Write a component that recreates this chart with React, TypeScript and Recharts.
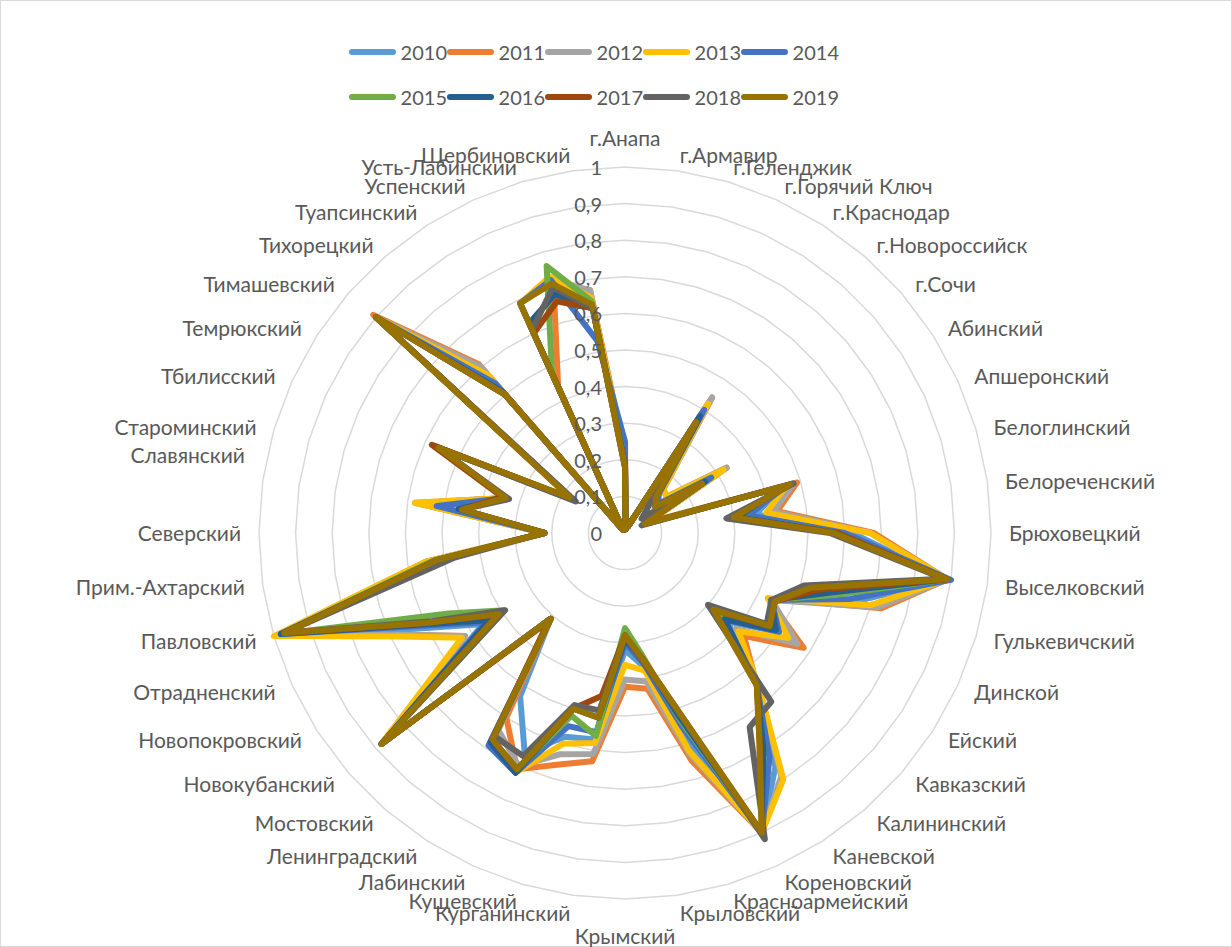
import React from 'react';
import { PolarAngleAxis, PolarGrid, PolarRadiusAxis, Radar, RadarChart } from 'recharts';

const districts = [
  'г.Анапа', 'г.Армавир', 'г.Геленджик', 'г.Горячий Ключ', 'г.Краснодар', 'г.Новороссийск', 'г.Сочи',
  'Абинский', 'Апшеронский', 'Белоглинский', 'Белореченский', 'Брюховецкий', 'Выселковский',
  'Гулькевичский', 'Динской', 'Ейский', 'Кавказский', 'Калининский', 'Каневской', 'Кореновский',
  'Красноармейский', 'Крыловский', 'Крымский', 'Курганинский', 'Кущевский', 'Лабинский',
  'Ленинградский', 'Мостовский', 'Новокубанский', 'Новопокровский', 'Отрадненский', 'Павловский',
  'Прим.-Ахтарский', 'Северский ', 'Славянский', 'Староминский', 'Тбилисский', 'Темрюкский',
  'Тимашевский', 'Тихорецкий', 'Туапсинский', 'Успенский', 'Усть-Лабинский', 'Щербиновский',
];

// one array per year, in the order of districts
const y2010 = [0.19, 0.01, 0.02, 0.02, 0.41, 0.14, 0.12, 0.30, 0.06, 0.45, 0.36, 0.62, 0.89, 0.66, 0.44, 0.50, 0.37, 0.56, 0.76, 0.90, 0.58, 0.37, 0.32, 0.57, 0.58, 0.66, 0.53, 0.31, 0.88, 0.46, 0.63, 0.98, 0.53, 0.22, 0.53, 0.34, 0.56, 0.17, 0.90, 0.54, 0.01, 0.69, 0.72, 0.63];
const y2011 = [0.22, 0.01, 0.02, 0.02, 0.44, 0.16, 0.15, 0.33, 0.07, 0.49, 0.42, 0.68, 0.89, 0.73, 0.43, 0.58, 0.43, 0.55, 0.69, 0.90, 0.65, 0.43, 0.42, 0.63, 0.66, 0.71, 0.60, 0.31, 0.88, 0.52, 0.67, 0.99, 0.55, 0.22, 0.57, 0.34, 0.56, 0.17, 0.91, 0.61, 0.01, 0.44, 0.69, 0.67];
const y2012 = [0.20, 0.01, 0.02, 0.02, 0.44, 0.16, 0.15, 0.33, 0.07, 0.48, 0.41, 0.67, 0.89, 0.72, 0.44, 0.56, 0.40, 0.56, 0.79, 0.90, 0.63, 0.41, 0.40, 0.61, 0.63, 0.70, 0.64, 0.31, 0.88, 0.52, 0.67, 0.99, 0.54, 0.22, 0.58, 0.34, 0.56, 0.17, 0.90, 0.60, 0.01, 0.69, 0.72, 0.67];
const y2013 = [0.21, 0.01, 0.02, 0.02, 0.42, 0.16, 0.15, 0.32, 0.07, 0.46, 0.39, 0.67, 0.89, 0.70, 0.43, 0.53, 0.41, 0.56, 0.80, 0.90, 0.62, 0.38, 0.36, 0.58, 0.60, 0.72, 0.68, 0.31, 0.88, 0.53, 0.68, 1.00, 0.55, 0.22, 0.58, 0.34, 0.56, 0.17, 0.90, 0.57, 0.01, 0.69, 0.73, 0.65];
const y2014 = [0.25, 0.01, 0.02, 0.02, 0.40, 0.14, 0.12, 0.28, 0.06, 0.46, 0.34, 0.60, 0.90, 0.64, 0.44, 0.50, 0.36, 0.55, 0.73, 0.90, 0.55, 0.36, 0.30, 0.55, 0.55, 0.72, 0.69, 0.31, 0.88, 0.45, 0.61, 0.98, 0.52, 0.22, 0.52, 0.34, 0.56, 0.17, 0.90, 0.54, 0.01, 0.69, 0.72, 0.53];
const y2015 = [0.19, 0.01, 0.02, 0.02, 0.37, 0.13, 0.11, 0.26, 0.06, 0.46, 0.31, 0.58, 0.89, 0.60, 0.44, 0.48, 0.33, 0.55, 0.70, 0.90, 0.53, 0.34, 0.26, 0.56, 0.52, 0.71, 0.67, 0.31, 0.88, 0.39, 0.53, 0.98, 0.53, 0.22, 0.46, 0.34, 0.56, 0.17, 0.90, 0.50, 0.01, 0.48, 0.76, 0.64];
const y2016 = [0.19, 0.01, 0.02, 0.02, 0.38, 0.13, 0.11, 0.26, 0.06, 0.46, 0.31, 0.58, 0.89, 0.58, 0.44, 0.49, 0.36, 0.55, 0.70, 0.90, 0.52, 0.35, 0.29, 0.51, 0.50, 0.72, 0.68, 0.31, 0.88, 0.44, 0.60, 0.98, 0.52, 0.22, 0.46, 0.34, 0.57, 0.17, 0.90, 0.51, 0.01, 0.63, 0.68, 0.62];
const y2017 = [0.18, 0.01, 0.02, 0.02, 0.36, 0.13, 0.11, 0.25, 0.06, 0.47, 0.30, 0.58, 0.89, 0.55, 0.45, 0.47, 0.32, 0.55, 0.68, 0.90, 0.50, 0.35, 0.28, 0.45, 0.50, 0.71, 0.67, 0.32, 0.88, 0.41, 0.59, 0.97, 0.52, 0.22, 0.45, 0.35, 0.58, 0.17, 0.90, 0.50, 0.01, 0.60, 0.66, 0.62];
const y2018 = [0.18, 0.01, 0.02, 0.02, 0.36, 0.10, 0.06, 0.25, 0.05, 0.48, 0.28, 0.56, 0.88, 0.51, 0.44, 0.46, 0.30, 0.61, 0.63, 0.92, 0.50, 0.36, 0.28, 0.49, 0.49, 0.67, 0.66, 0.31, 0.88, 0.39, 0.58, 0.97, 0.47, 0.22, 0.45, 0.33, 0.56, 0.16, 0.90, 0.50, 0.01, 0.61, 0.70, 0.62];
const y2019 = [0.18, 0.01, 0.02, 0.02, 0.36, 0.13, 0.11, 0.25, 0.06, 0.47, 0.30, 0.57, 0.89, 0.53, 0.45, 0.47, 0.32, 0.55, 0.68, 0.90, 0.50, 0.35, 0.28, 0.51, 0.50, 0.71, 0.67, 0.31, 0.88, 0.41, 0.59, 0.97, 0.52, 0.22, 0.45, 0.34, 0.56, 0.18, 0.90, 0.50, 0.01, 0.69, 0.71, 0.63];

const years = ['2010', '2011', '2012', '2013', '2014', '2015', '2016', '2017', '2018', '2019'];
const seriesValues = [y2010, y2011, y2012, y2013, y2014, y2015, y2016, y2017, y2018, y2019];
const colors = ['#5B9BD5', '#ED7D31', '#A5A5A5', '#FFC000', '#4472C4', '#70AD47', '#255E91', '#9E480E', '#636363', '#997300'];
const radiusTicks = [0, 0.1, 0.2, 0.3, 0.4, 0.5, 0.6, 0.7, 0.8, 0.9, 1];

const data = districts.map((name, i) => {
  const row: Record<string, string | number> = { name };
  years.forEach((y, k) => {
    row['y' + y] = seriesValues[k][i];
  });
  return row;
});

const CX = 625;
const CY = 533;
const R = 366;
const FONT = 'Lato, "Noto Sans", sans-serif';
const TEXT = '#595959';

function AngleTick(props: any) {
  const { payload, index } = props;
  const deg = payload && typeof payload.coordinate === 'number' ? payload.coordinate : 90 - (index * 360) / districts.length;
  const a = (deg * Math.PI) / 180;
  const sx = Math.cos(a);
  const up = Math.sin(a);
  const rr = R + 18;
  const x = CX + rr * sx;
  const y = CY - rr * up;
  let anchor = sx > 0 ? 'start' : 'end';
  let dy = up > 0 ? 2 : -1;
  if (Math.abs(sx) < 0.02) {
    anchor = 'middle';
    dy = up > 0 ? -12 : 18;
  }
  // Excel nudged this one label upward
  if (payload.value === 'Славянский') dy -= 26;
  return (
    <text x={x} y={y + dy} textAnchor={anchor} dominantBaseline="central" fill={TEXT} fontSize={21} fontFamily={FONT}>
      {payload.value}
    </text>
  );
}

function RadiusTick(props: any) {
  const { y, payload } = props;
  const label = String(Number(Number(payload.value).toFixed(1))).replace('.', ',');
  return (
    <text x={CX - 23} y={y} textAnchor="end" dominantBaseline="central" fill={TEXT} fontSize={20} fontFamily={FONT}>
      {label}
    </text>
  );
}

function LegendBlock() {
  const rows = [years.slice(0, 5), years.slice(5)];
  return (
    <div style={{ position: 'absolute', left: 348, top: 28, fontFamily: FONT, color: TEXT, fontSize: 20 }}>
      {rows.map((row, r) => (
        <div key={r} style={{ display: 'flex', height: 45, alignItems: 'center' }}>
          {row.map((y) => {
            const k = years.indexOf(y);
            return (
              <div key={y} style={{ display: 'flex', alignItems: 'center', width: 98 }}>
                <span style={{ display: 'inline-block', width: 47, height: 6, borderRadius: 3, background: colors[k], marginRight: 5 }} />
                <span>{y}</span>
              </div>
            );
          })}
        </div>
      ))}
    </div>
  );
}

export default function App() {
  return (
    <div style={{ position: 'relative', width: 1232, height: 947, background: '#fff', boxSizing: 'border-box', border: '1px solid #d9d9d9' }}>
      <style>{'body{margin:0}'}</style>
      <div style={{ position: 'absolute', left: -1, top: -1 }}>
        <RadarChart width={1232} height={947} data={data} cx={CX} cy={CY} outerRadius={R} startAngle={90} endAngle={-270} margin={{ top: 0, right: 0, bottom: 0, left: 0 }}>
          <PolarGrid radialLines={false} stroke="#d9d9d9" strokeWidth={1.5} />
          <PolarAngleAxis dataKey="name" tick={<AngleTick />} tickLine={false} axisLine={false} />
          <PolarRadiusAxis angle={90} domain={[0, 1]} ticks={radiusTicks} tickCount={11} axisLine={false} tickLine={false} tick={<RadiusTick />} />
          {years.map((y, k) => (
            <Radar
              key={y}
              name={y}
              dataKey={'y' + y}
              stroke={colors[k]}
              strokeWidth={6}
              strokeLinejoin="round"
              fill="none"
              fillOpacity={0}
              dot={false}
              isAnimationActive={false}
            />
          ))}
        </RadarChart>
      </div>
      <LegendBlock />
    </div>
  );
}
